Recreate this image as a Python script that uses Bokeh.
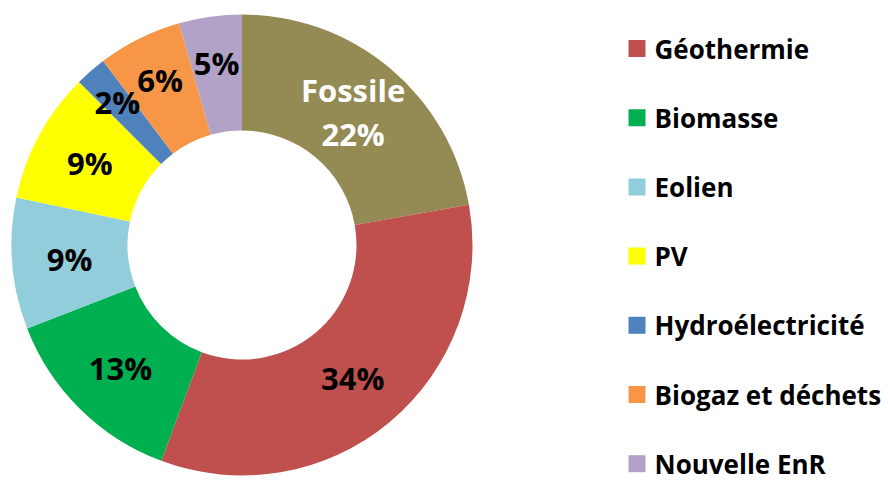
import math
from bokeh.plotting import figure
from bokeh.models import Range1d, ColumnDataSource
from bokeh.core.properties import value
from bokeh.embed import file_html
from bokeh.resources import INLINE

# ---- data ----
categories = ["Fossile", "Géothermie", "Biomasse", "Eolien", "PV",
              "Hydroélectricité", "Biogaz et déchets", "Nouvelle EnR"]
shares = [22.2, 33.5, 13.4, 9.2, 9.2, 2.2, 5.9, 4.4]
pct_labels = ["22%", "34%", "13%", "9%", "9%", "2%", "6%", "5%"]
legend_categories = categories[1:]

# ---- style ----
colors = ["#948A54", "#C0504D", "#00B050", "#92CDDC", "#FFFF00",
          "#4F81BD", "#F79646", "#B2A2C7"]
label_colors = ["white"] + ["black"] * 7
label_radius = [173, 173, 173, 173, 173, 190, 184, 184]

W, H = 888, 482
cx, cy = 241.5, 237.5
r_out, r_in = 230.5, 114.5

total = sum(shares)
starts, ends, mids = [], [], []
acc = 0.0
for s in shares:
    a0 = math.pi / 2 - 2 * math.pi * acc / total
    acc += s
    a1 = math.pi / 2 - 2 * math.pi * acc / total
    starts.append(a1)
    ends.append(a0)
    mids.append((a0 + a1) / 2)

src = ColumnDataSource(dict(cat=categories, start=starts, end=ends, color=colors))

p = figure(width=W, height=H, output_backend="svg", toolbar_location=None,
           x_range=Range1d(0, W), y_range=Range1d(0, H), min_border=0)
p.axis.visible = False
p.grid.visible = False
p.outline_line_color = None
p.background_fill_color = "white"

p.annular_wedge(x=cx, y=cy, inner_radius=r_in, outer_radius=r_out,
                start_angle="start", end_angle="end", color="color",
                line_width=0, source=src)

texts = []
for i, (c, t) in enumerate(zip(categories, pct_labels)):
    texts.append(c + "\n" + t if i == 0 else t)
lx = [cx + rr * math.cos(m) for rr, m in zip(label_radius, mids)]
ly = [cy + rr * math.sin(m) for rr, m in zip(label_radius, mids)]
lab_src = ColumnDataSource(dict(x=lx, y=ly, text=texts, color=label_colors))
p.text(x="x", y="y", text="text", text_color="color", source=lab_src,
       text_font=value("Open Sans"), text_font_style="bold",
       text_font_size="31px", text_align="center", text_baseline="middle",
       text_line_height=1.05)

# legend (manual)
row0, pitch = 434, 69.2
leg_y = [row0 - pitch * i for i in range(len(legend_categories))]
p.rect(x=[636.5] * len(leg_y), y=leg_y, width=17, height=17,
       color=colors[1:], line_width=0)
p.text(x=[654] * len(leg_y), y=leg_y, text=legend_categories,
       text_font=value("Open Sans"), text_font_style="bold",
       text_font_size="26px", text_align="left", text_baseline="middle",
       text_color="black")

open("out.html", "w").write(file_html(p, INLINE))
